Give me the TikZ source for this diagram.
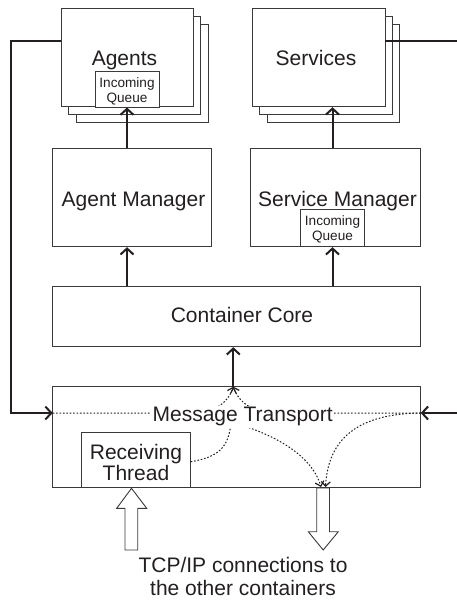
\documentclass[tikz,border=0pt]{standalone}
\usepackage{fontspec}
\setmainfont{Liberation Sans}
\usetikzlibrary{arrows.meta}
\definecolor{ink}{HTML}{231F20}
\definecolor{edge}{HTML}{3A3A3A}
\newcommand{\bigf}{\fontsize{21}{24}\selectfont}
\newcommand{\smallf}{\fontsize{13.6}{15.4}\selectfont}
\begin{document}
\begin{tikzpicture}[x=1pt,y=-1pt,
  box/.style={draw=edge, line width=0.9pt, fill=white, inner sep=0pt},
  lbl/.style={anchor=base, inner sep=0pt, text=ink, font=\bigf},
  slbl/.style={anchor=base, inner sep=0pt, text=ink, font=\smallf},
  conn/.style={draw=ink, line width=2pt, -{Straight Barb[length=6pt,width=13pt]}},
  dotc/.style={draw=ink, line width=1pt, dash pattern=on 1.6pt off 1.8pt, -{Straight Barb[length=4.5pt,width=9pt,line width=1.2pt]}},
  dotn/.style={draw=ink, line width=1pt, dash pattern=on 1.6pt off 1.8pt},
  hollow/.style={draw=edge, line width=0.9pt, fill=white, line join=miter}
]
\useasboundingbox (0,0) rectangle (456,600);

% stacked Agents
\node[box, minimum width=132pt, minimum height=98.5pt] (ag3) at (142,73.2) {};
\node[box, minimum width=132pt, minimum height=98.5pt] (ag2) at (134.5,65.3) {};
\node[box, minimum width=132pt, minimum height=98.5pt] (ag) at (127,57.5) {};
\node[lbl] (agl) at (124.5,65) {Agents};
\node[box, minimum width=64pt, minimum height=36pt] (agq) at (127,89) {};
\node[slbl] (agq1) at (127,87.3) {Incoming};
\node[slbl] (agq2) at (127,102.7) {Queue};

% stacked Services
\node[box, minimum width=132.7pt, minimum height=98.5pt] (sv3) at (333.5,73.2) {};
\node[box, minimum width=132.7pt, minimum height=98.5pt] (sv2) at (326,65.3) {};
\node[box, minimum width=132.7pt, minimum height=98.5pt] (sv) at (318.7,57.5) {};
\node[lbl] (svl) at (316,65) {Services};

% managers
\node[box, minimum width=159pt, minimum height=98.4pt] (am) at (132.2,197.5) {};
\node[lbl] (aml) at (133.5,206) {Agent Manager};
\node[box, minimum width=170pt, minimum height=98.4pt] (sm) at (335.7,197.5) {};
\node[lbl] (sml) at (337.5,206) {Service Manager};
\node[box, minimum width=63.6pt, minimum height=37.4pt] (smq) at (332.5,228) {};
\node[slbl] (smq1) at (332.5,225) {Incoming};
\node[slbl] (smq2) at (332.5,240.3) {Queue};

% container core
\node[box, minimum width=368pt, minimum height=60pt] (cc) at (236.7,316.7) {};
\node[lbl] (ccl) at (242,322.7) {Container Core};

% message transport
\node[box, minimum width=368pt, minimum height=100.6pt] (mt) at (236.7,437) {};
\node[box, minimum width=108.6pt, minimum height=55pt] (rt) at (136,459.8) {};
\node[lbl] (rt1) at (136,459) {Receiving};
\node[lbl] (rt2) at (136,480.7) {Thread};

\coordinate (top) at (233.3,386.7);
\coordinate (inL) at (52.7,413);
\coordinate (inR) at (420.7,413);
\coordinate (outL) at (321,487);
\coordinate (outR) at (325.5,487);
\coordinate (al) at (61,41);
\coordinate (ar) at (385,41);

% solid connectors
\draw[conn] (am.north -| agq.south) -- (agq.south);
\draw[conn] (sm.north -| smq.north) -- (sv.south -| smq.north);
\draw[conn] (cc.north -| agq.south) -- (am.south -| agq.south);
\draw[conn] (cc.north -| smq.south) -- (smq.south);
\draw[conn] (top) -- (cc.south -| top);
\draw[conn] (al) -- (11,41) |- (inL);
\draw[conn] (ar) -- (470,41) |- (inR);

% dotted flows inside message transport
\draw[dotc] (inL) -- (195,413) .. controls (215,413) and (229,401) .. (top);
\draw[dotc] (inR) -- (275,413) .. controls (252,413) and (238,401) .. (top);
\draw[dotn] (rt.east |- 0,461.7) .. controls (220,457) and (229,446) .. (231,422);
\draw[dotc] (226,421) .. controls (272,432) and (312,455) .. (outL);
\draw[dotc] (inR) .. controls (350,414) and (328,445) .. (outR);
\node[lbl, fill=white, inner sep=1.5pt] (mtl) at (242.7,421.7) {Message Transport};

% hollow block arrows (TCP/IP)
\draw[hollow] (125,550) -- (125,508.3) -- (116.7,508.3) -- (131.5,488.3) -- (146.7,508.3) -- (137.7,508.3) -- (137.7,550) -- cycle;
\draw[hollow] (316.7,488) -- (316.7,531.7) -- (308.3,531.7) -- (323.2,550) -- (338.3,531.7) -- (329.5,531.7) -- (329.5,488) -- cycle;

\node[lbl] (tcp1) at (243,572.5) {TCP/IP connections to};
\node[lbl] (tcp2) at (243,595.5) {the other containers};
\end{tikzpicture}
\end{document}
